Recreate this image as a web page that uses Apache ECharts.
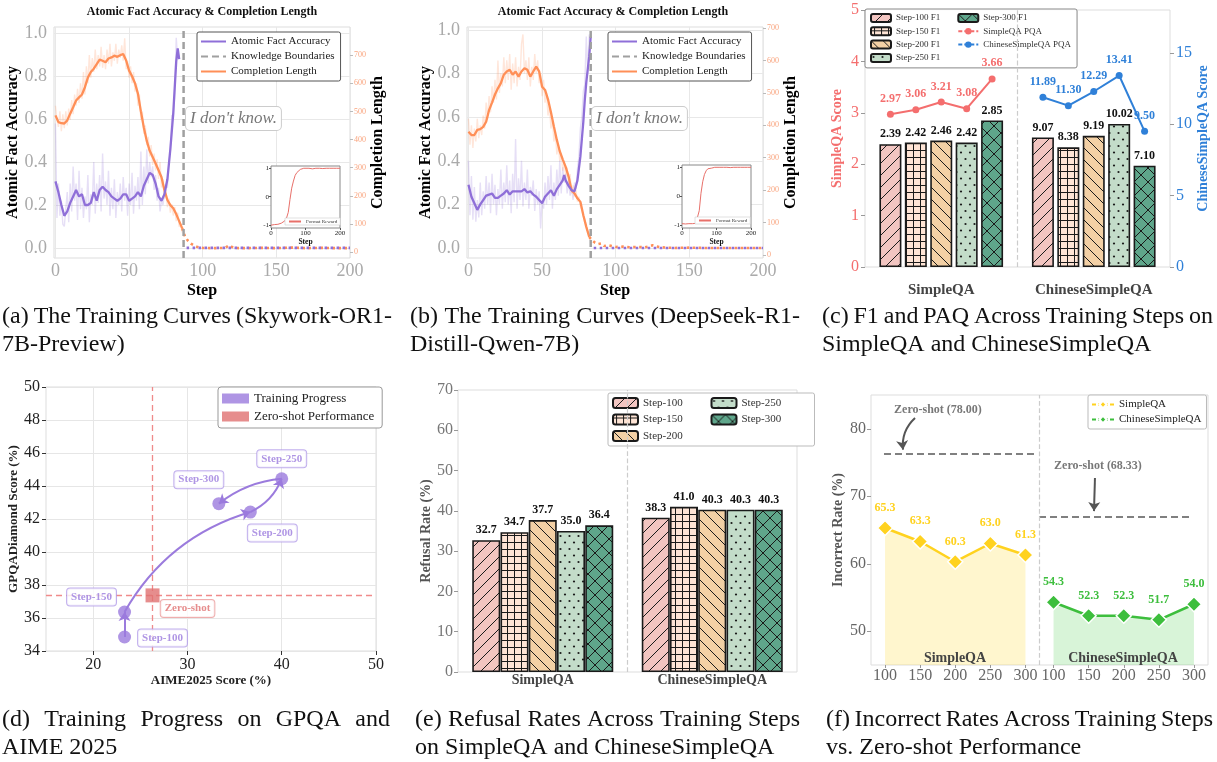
<!DOCTYPE html>
<html>
<head>
<meta charset="utf-8">
<script src="https://cdn.jsdelivr.net/npm/echarts@6/dist/echarts.min.js"></script>
<style>
html, body { margin: 0; padding: 0; background: #fff; }
#chart { width: 1217px; height: 762px; }
</style>
</head>
<body>
<div id="chart"></div>
<script>
const FONT = 'Liberation Serif';
const PURPLE = '#8F6FD8';
const ORANGE = '#FF8F57';

// ---------- (a) training curves, Skywork-OR1-7B-Preview ----------
const aAccRaw = [0.58, 0.14, 0.30, 0.15, 0.22, 0.11, 0.10, 0.18, 0.26, 0.12, 0.30, 0.17, 0.38, 0.22, 0.30, 0.13, 0.36, 0.18, 0.28, 0.14,
  0.24, 0.18, 0.34, 0.12, 0.25, 0.20, 0.40, 0.16, 0.30, 0.21, 0.34, 0.17, 0.44, 0.23, 0.31, 0.20, 0.36, 0.15, 0.28, 0.18,
  0.32, 0.14, 0.26, 0.20, 0.30, 0.17, 0.33, 0.22, 0.28, 0.15, 0.30, 0.20, 0.35, 0.16, 0.29, 0.22, 0.33, 0.18, 0.45, 0.20,
  0.38, 0.25, 0.46, 0.30, 0.40, 0.33, 0.38, 0.27, 0.34, 0.22, 0.28, 0.17, 0.22, 0.20, 0.26, 0.30, 0.28, 0.40, 0.45, 0.62,
  0.60, 0.72, 0.98, 0.88, 0.90];
const aLenRaw = [520, 470, 445, 500, 430, 490, 440, 500, 450, 510, 470, 540, 490, 560, 520, 580, 530, 600, 545, 640,
  560, 660, 600, 700, 620, 690, 640, 720, 650, 700, 660, 730, 655, 700, 650, 720, 670, 740, 660, 710,
  680, 740, 670, 720, 690, 735, 680, 760, 650, 680, 620, 660, 600, 640, 570, 600, 520, 560, 470, 500,
  420, 450, 380, 410, 340, 380, 310, 350, 290, 330, 260, 320, 230, 260, 190, 220, 160, 190, 140, 170,
  130, 160, 110, 140, 90, 100, 70];
const aAccSteps = [0, 2, 4, 6, 8, 10, 12, 14, 16, 18, 20, 22, 24, 26, 28, 30, 32, 34, 36, 38, 40, 42, 44, 46, 48, 50,
  52, 54, 56, 58, 60, 62, 64, 66, 68, 70, 72, 74, 76, 78, 80, 82, 83, 84];
const aAccSmooth = [0.31, 0.26, 0.20, 0.15, 0.17, 0.21, 0.24, 0.27, 0.24, 0.25, 0.20, 0.20, 0.21, 0.26, 0.22, 0.27, 0.285, 0.27,
  0.26, 0.24, 0.23, 0.22, 0.23, 0.25, 0.25, 0.22, 0.23, 0.24, 0.26, 0.24, 0.29, 0.32, 0.35, 0.34, 0.30, 0.24, 0.22, 0.25,
  0.32, 0.46, 0.63, 0.87, 0.93, 0.88];
const aLenSteps = [0, 2, 4, 6, 8, 10, 12, 14, 16, 18, 20, 22, 24, 26, 28, 30, 32, 34, 36, 38, 40, 42, 44, 46, 48, 50,
  52, 54, 56, 58, 60, 62, 64, 66, 68, 70, 72, 74, 76, 78, 80, 82, 84, 86];
const aLenSmooth = [486, 462, 458, 457, 468, 492, 515, 539, 550, 560, 586, 620, 640, 652, 668, 684, 680, 675, 688, 692,
  698, 694, 700, 704, 681, 645, 625, 600, 563, 500, 443, 395, 360, 338, 315, 291, 266, 220, 185, 167, 156, 135, 110, 85];
const aTailSteps = [86, 88, 90, 92, 94, 96, 98, 100, 105, 110, 115, 118, 121, 125, 130, 140, 150, 160, 170, 180, 190, 200];
const aTailLen = [85, 55, 40, 30, 24, 19, 16, 15, 14, 14, 15, 24, 15, 14, 14, 15, 14, 16, 14, 15, 14, 14];
const aBoundary = 87;
const rewardSteps = [0, 5, 10, 15, 20, 25, 30, 35, 40, 45, 50, 55, 60, 65, 70, 75, 80, 85, 90, 95, 100,
  110, 120, 130, 140, 150, 160, 170, 180, 190, 200];
const aReward = [-1, -1, -0.98, -1, -0.97, -0.95, -0.93, -0.9, -0.85, -0.75, -0.55, -0.1, 0.3, 0.55, 0.75, 0.85, 0.92, 0.96, 0.98, 1, 0.99,
  1, 0.98, 1, 1, 0.99, 1, 1, 1, 1, 1];

// ---------- (b) training curves, DeepSeek-R1-Distill-Qwen-7B ----------
const bAccRaw = [0.40, 0.15, 0.33, 0.13, 0.28, 0.12, 0.22, 0.14, 0.30, 0.15, 0.26, 0.18, 0.33, 0.20, 0.30, 0.16, 0.34, 0.20, 0.29, 0.15,
  0.27, 0.20, 0.36, 0.18, 0.30, 0.21, 0.38, 0.20, 0.31, 0.16, 0.34, 0.21, 0.50, 0.18, 0.32, 0.22, 0.40, 0.19, 0.30, 0.22,
  0.36, 0.18, 0.28, 0.24, 0.31, 0.17, 0.27, 0.20, 0.26, 0.09, 0.22, 0.18, 0.30, 0.20, 0.33, 0.22, 0.38, 0.18, 0.30, 0.22,
  0.36, 0.24, 0.40, 0.25, 0.37, 0.30, 0.34, 0.25, 0.31, 0.24, 0.28, 0.22, 0.30, 0.27, 0.36, 0.42, 0.55, 0.60, 0.72, 0.75,
  0.97, 0.80, 0.98, 0.96];
const bLenRaw = [420, 340, 400, 330, 390, 350, 420, 360, 400, 370, 430, 390, 470, 420, 490, 440, 520, 470, 540, 480,
  600, 500, 560, 520, 610, 530, 600, 540, 620, 510, 590, 530, 610, 520, 580, 540, 650, 680, 560, 600,
  540, 610, 520, 580, 540, 620, 560, 600, 530, 560, 490, 540, 470, 500, 430, 460, 390, 420, 350, 380,
  310, 340, 290, 310, 260, 290, 240, 270, 220, 250, 190, 215, 180, 200, 165, 180, 150, 140, 120, 110,
  90, 75, 60, 45];
const bAccSteps = [0, 2, 4, 6, 8, 10, 12, 14, 16, 18, 20, 22, 24, 26, 28, 30, 32, 34, 36, 38, 40, 42, 44, 46, 48, 50,
  52, 54, 56, 58, 60, 62, 64, 65, 66, 68, 70, 72, 74, 76, 77, 78, 79, 80, 81, 82, 83];
const bAccSmooth = [0.29, 0.235, 0.205, 0.175, 0.20, 0.22, 0.24, 0.245, 0.25, 0.23, 0.23, 0.24, 0.25, 0.265, 0.245, 0.26, 0.26,
  0.26, 0.26, 0.27, 0.255, 0.26, 0.245, 0.235, 0.22, 0.205, 0.235, 0.25, 0.265, 0.24, 0.27, 0.29, 0.31, 0.335, 0.31, 0.285,
  0.265, 0.26, 0.31, 0.42, 0.50, 0.58, 0.68, 0.76, 0.76, 0.88, 0.97];
const bLenSteps = [0, 2, 4, 6, 8, 10, 12, 14, 16, 18, 20, 22, 24, 26, 28, 30, 32, 34, 36, 38, 40, 42, 44, 46, 48, 50,
  52, 54, 56, 58, 60, 62, 64, 66, 68, 70, 72, 74, 76, 78, 80, 82];
const bLenSmooth = [380, 370, 370, 386, 388, 395, 411, 447, 470, 495, 514, 530, 556, 566, 571, 556, 566, 550, 566, 576,
  571, 550, 566, 581, 566, 519, 509, 480, 440, 396, 355, 320, 295, 272, 242, 200, 190, 175, 164, 123, 87, 56];
const bTailSteps = [82, 84, 86, 88, 90, 92, 95, 100, 105, 110, 115, 120, 125, 130, 140, 150, 160, 170, 180, 190, 200];
const bTailLen = [56, 45, 38, 34, 36, 28, 30, 25, 26, 24, 25, 24, 30, 24, 22, 23, 22, 22, 22, 22, 22];
const bBoundary = 83;
const bReward = [-0.95, -0.95, -0.96, -0.95, -0.95, -0.96, -0.95, -0.95, -0.94, -0.9, -0.5, 0.1, 0.5, 0.75, 0.88, 0.95, 0.98, 0.97, 1, 1, 0.99,
  1, 1, 1, 0.99, 1, 1, 1, 1, 1, 1];

// ---------- (c) F1 and PQA ----------
const cGroups = ['SimpleQA', 'ChineseSimpleQA'];
const cSteps = ['Step-100', 'Step-150', 'Step-200', 'Step-250', 'Step-300'];
const cSimpleF1 = [2.39, 2.42, 2.46, 2.42, 2.85];
const cChineseF1 = [9.07, 8.38, 9.19, 10.02, 7.10];
const cSimplePQA = [2.97, 3.06, 3.21, 3.08, 3.66];
const cChinesePQA = [11.89, 11.30, 12.29, 13.41, 9.50];

// ---------- (d) GPQA vs AIME ----------
const dSteps = ['Step-100', 'Step-150', 'Step-200', 'Step-250', 'Step-300'];
const dAime = [23.33, 23.33, 36.67, 40.0, 33.33];
const dGpqa = [34.85, 36.36, 42.42, 44.44, 42.93];
const dZeroAime = 26.3;
const dZeroGpqa = 37.37;

// ---------- (e) refusal rates ----------
const eGroups = ['SimpleQA', 'ChineseSimpleQA'];
const eSteps = ['Step-100', 'Step-150', 'Step-200', 'Step-250', 'Step-300'];
const eSimple = [32.7, 34.7, 37.7, 35.0, 36.4];
const eChinese = [38.3, 41.0, 40.3, 40.3, 40.3];

// ---------- (f) incorrect rates ----------
const fSteps = [100, 150, 200, 250, 300];
const fSimple = [65.3, 63.3, 60.3, 63.0, 61.3];
const fChinese = [54.3, 52.3, 52.3, 51.7, 54.0];
const fZeroShot = [78.00, 68.33];   // values written in the notes
const fZeroLine = [76.3, 67.0];     // height the dashed lines are drawn at

// ---------- layout helpers (no data below) ----------
const pts = (xs, ys) => xs.map((x, i) => [x, ys[i]]);
const idx = ys => ys.map((y, i) => [i, y]);
const slots = Array.from({length: 13}, (_, i) => 'slot' + i);
function place(vals, start) {
  const arr = slots.map(() => '-');
  vals.forEach((v, i) => { arr[start + i] = v; });
  return arr;
}
function only(v, at) {
  const arr = slots.map(() => '-');
  arr[at] = v;
  return arr;
}

function hatch(bg, kind) {
  const s = {fwd: 12, back: 12, grid: 7, dots: 9, cross: 14}[kind];
  const c = document.createElement('canvas');
  c.width = s;
  c.height = kind === 'dots' ? 13 : s;
  const g = c.getContext('2d');
  g.fillStyle = bg;
  g.fillRect(0, 0, c.width, c.height);
  g.strokeStyle = '#1a1a1a';
  g.fillStyle = '#1a1a1a';
  g.lineWidth = 1;
  g.beginPath();
  if (kind === 'fwd' || kind === 'cross') {
    g.moveTo(-1, s + 1); g.lineTo(s + 1, -1);
    g.moveTo(-1, 1); g.lineTo(1, -1);
    g.moveTo(s - 1, s + 1); g.lineTo(s + 1, s - 1);
  }
  if (kind === 'back' || kind === 'cross') {
    g.moveTo(-1, -1); g.lineTo(s + 1, s + 1);
    g.moveTo(s - 1, -1); g.lineTo(s + 1, 1);
    g.moveTo(-1, s - 1); g.lineTo(1, s + 1);
  }
  if (kind === 'grid') {
    g.moveTo(3.5, 0); g.lineTo(3.5, s);
    g.moveTo(0, 3.5); g.lineTo(s, 3.5);
  }
  g.stroke();
  if (kind === 'dots') {
    [[2.5, 3], [7, 9.5]].forEach(([x, y]) => {
      g.beginPath(); g.arc(x, y, 1.1, 0, Math.PI * 2); g.fill();
    });
  }
  return {image: c, repeat: 'repeat'};
}
const barFills = ['#F2C5C1', '#FEE4D5', '#F3D0A5', '#C3DCC9', '#5FA68B'];
const barKinds = ['fwd', 'grid', 'back', 'dots', 'cross'];
const barStyles = barFills.map((c, i) => ({color: hatch(c, barKinds[i]), borderColor: '#1a1a1a', borderWidth: 1.6}));

const grids = [], xAxes = [], yAxes = [], series = [], legends = [], graphics = [];
const font = (size, weight, color) => ({fontFamily: FONT, fontSize: size, fontWeight: weight || 'normal', color: color || '#222'});

// ---------- panels (a) and (b) ----------
const stepTicks = [0, 50, 100, 150, 200];
const accTicks = [0, 0.2, 0.4, 0.6, 0.8, 1.0];
const lenTicks = [0, 100, 200, 300, 400, 500, 600, 700];

function addTraining(p) {
  const gi = grids.length, xi = xAxes.length, yi = yAxes.length;
  grids.push({left: p.left, top: 27, width: 296, height: 231, show: true, borderColor: '#ddd', borderWidth: 1, backgroundColor: 'transparent'});
  grids.push({left: p.inset[0], top: p.inset[1], width: 69, height: p.inset[2], show: true, borderColor: '#888', borderWidth: 1, backgroundColor: '#fff', z: 3});
  xAxes.push({
    gridIndex: gi, type: 'value', min: -1, max: 200, position: 'bottom',
    name: 'Step', nameLocation: 'middle', nameGap: 25, nameTextStyle: font(16, 'bold', '#000'),
    axisLine: {show: false, onZero: false}, axisTick: {show: false, customValues: stepTicks},
    axisLabel: Object.assign({customValues: stepTicks, margin: 4}, font(18, 'normal', '#aaa')),
    splitLine: {show: true, lineStyle: {color: '#e8e8e8'}}
  });
  xAxes.push({
    gridIndex: gi + 1, type: 'value', min: 0, max: 200, z: 4, position: 'bottom',
    name: 'Step', nameLocation: 'middle', nameGap: 9, nameTextStyle: font(7.5, 'bold', '#111'),
    axisLine: {show: false, onZero: false}, axisTick: {show: true, length: 2, customValues: [0, 100, 200], lineStyle: {color: '#555'}},
    axisLabel: Object.assign({customValues: [0, 100, 200], margin: 2}, font(7, 'normal', '#222')),
    splitLine: {show: false}
  });
  yAxes.push({
    gridIndex: gi, type: 'value', min: p.accRange[0], max: p.accRange[1],
    name: 'Atomic Fact Accuracy', nameLocation: 'middle', nameGap: 29, nameTextStyle: font(16, 'bold', '#000'),
    axisLine: {show: false, onZero: false}, axisTick: {show: false, customValues: accTicks},
    axisLabel: Object.assign({customValues: accTicks, margin: 7, formatter: v => v.toFixed(1)}, font(18, 'normal', '#aaa')),
    splitLine: {show: true, lineStyle: {color: '#e8e8e8'}}
  });
  yAxes.push({
    gridIndex: gi, type: 'value', position: 'right', min: p.lenRange[0], max: p.lenRange[1],
    name: 'Completion Length', nameLocation: 'middle', nameGap: 20, nameTextStyle: font(16, 'bold', '#000'),
    axisLine: {show: false, onZero: false}, axisTick: {show: true, length: 3, customValues: lenTicks, lineStyle: {color: '#bbb'}},
    axisLabel: Object.assign({customValues: lenTicks, margin: 4}, font(8, 'normal', '#F9A47E')),
    splitLine: {show: false}
  });
  yAxes.push({
    gridIndex: gi + 1, type: 'value', min: -1.1, max: 1.08, z: 4,
    axisLine: {show: false, onZero: false}, axisTick: {show: true, length: 2, customValues: [-1, 0, 1], lineStyle: {color: '#555'}},
    axisLabel: Object.assign({customValues: [-1, 0, 1], margin: 2}, font(7, 'normal', '#222')),
    splitLine: {show: false}
  });
  const line = extra => Object.assign({type: 'line', symbol: 'none', silent: true, xAxisIndex: xi, yAxisIndex: yi}, extra);
  series.push(line({name: 'raw-acc', data: idx(p.accRaw), lineStyle: {color: 'rgba(143,111,216,0.22)', width: 1.4}, z: 1}));
  series.push(line({name: 'raw-len', yAxisIndex: yi + 1, data: idx(p.lenRaw), lineStyle: {color: 'rgba(255,143,87,0.22)', width: 1.4}, z: 1}));
  series.push(line({name: 'Completion Length', yAxisIndex: yi + 1, data: pts(p.lenSteps, p.lenSmooth),
    lineStyle: {color: ORANGE, width: 2.3}, itemStyle: {color: ORANGE}, z: 3}));
  series.push(line({name: 'Atomic Fact Accuracy', data: pts(p.accSteps, p.accSmooth),
    lineStyle: {color: PURPLE, width: 2.3}, itemStyle: {color: PURPLE}, z: 3}));
  series.push(line({name: 'tail-len', yAxisIndex: yi + 1, data: pts(p.tailSteps, p.tailLen),
    lineStyle: {color: ORANGE, width: 2.6, type: [2.5, 3.5]}, z: 3}));
  series.push(line({name: 'tail-acc', data: pts([p.boundary, 200], [0, 0]),
    lineStyle: {color: PURPLE, width: 2.6, type: [2.5, 3.5], dashOffset: 3}, z: 4}));
  series.push(line({name: 'Knowledge Boundaries', data: [[p.boundary, p.accRange[0]], [p.boundary, p.accRange[1]]],
    lineStyle: {color: '#a0a0a0', width: 2.5, type: [7, 4]}, itemStyle: {color: '#a0a0a0'}, z: 3}));
  series.push(line({name: 'Format Reward', xAxisIndex: xi + 1, yAxisIndex: yi + 2, data: pts(rewardSteps, p.reward),
    lineStyle: {color: '#E8706A', width: 1}, itemStyle: {color: '#E8706A'}, z: 4}));

  legends.push({
    left: p.legend, top: 32, orient: 'vertical', selectedMode: false,
    data: ['Atomic Fact Accuracy', 'Knowledge Boundaries', 'Completion Length'],
    itemWidth: 25, itemHeight: 10, itemGap: 4, itemStyle: {opacity: 0}, textStyle: font(11, 'normal', '#222'),
    backgroundColor: '#fff', borderColor: '#555', borderWidth: 1, borderRadius: 2, padding: [4, 6, 4, 3]
  });
  legends.push({
    left: p.insetLegend[0], top: p.insetLegend[1], selectedMode: false, data: ['Format Reward'],
    itemWidth: 12, itemHeight: 5, itemStyle: {opacity: 0}, textStyle: font(5, 'normal', '#333'),
    backgroundColor: '#fff', borderColor: '#ccc', borderWidth: 0.6, padding: [1, 3], z: 10
  });
  graphics.push({type: 'text', x: p.titleX, y: 12, z: 10, style: {
    text: 'Atomic Fact Accuracy & Completion Length', font: 'bold 12px "Liberation Serif"', fill: '#111',
    align: 'center', verticalAlign: 'middle', textAlign: 'center', textVerticalAlign: 'middle'}});
  graphics.push({type: 'text', x: p.idk[0], y: p.idk[1], z: 10, style: {
    text: "I don't know.", font: 'italic 17px "Liberation Serif"', fill: '#777',
    backgroundColor: '#fff', borderColor: '#ccc', borderWidth: 1, borderRadius: 4, padding: [3, 4]}});
}

addTraining({left: 54, inset: [271, 166, 62], accRange: [-0.047, 1.03], lenRange: [-21, 800],
  accRaw: aAccRaw, lenRaw: aLenRaw, accSteps: aAccSteps, accSmooth: aAccSmooth, lenSteps: aLenSteps, lenSmooth: aLenSmooth,
  tailSteps: aTailSteps, tailLen: aTailLen, boundary: aBoundary, reward: aReward,
  legend: 197, insetLegend: [285, 218], titleX: 202, idk: [186, 107]});
addTraining({left: 467, inset: [682, 165, 63], accRange: [-0.046, 1.014], lenRange: [-9, 703],
  accRaw: bAccRaw, lenRaw: bLenRaw, accSteps: bAccSteps, accSmooth: bAccSmooth, lenSteps: bLenSteps, lenSmooth: bLenSmooth,
  tailSteps: bTailSteps, tailLen: bTailLen, boundary: bBoundary, reward: bReward,
  legend: 608, insetLegend: [695, 217], titleX: 613, idk: [592, 107]});

// ---------- panel (c) ----------
const PINK = '#F46E6E', BLUE = '#2F80D8';
{
  const gi = grids.length, xi = xAxes.length, yi = yAxes.length;
  grids.push({left: 865, top: 10, width: 305, height: 257, show: true, borderColor: '#ddd', backgroundColor: 'transparent'});
  xAxes.push({gridIndex: gi, type: 'category', data: slots, boundaryGap: false, position: 'bottom',
    axisLine: {show: false}, axisTick: {show: false}, axisLabel: {show: false}, splitLine: {show: false}});
  xAxes.push({gridIndex: gi, type: 'category', data: cGroups, position: 'bottom', offset: 0,
    axisLine: {show: false}, axisTick: {show: false}, axisLabel: Object.assign({margin: 16, interval: 0}, font(15, 'bold', '#444')), splitLine: {show: false}});
  yAxes.push({gridIndex: gi, type: 'value', min: 0, max: 5, interval: 1,
    name: 'SimpleQA Score', nameLocation: 'middle', nameGap: 21, nameTextStyle: font(14, 'bold', PINK),
    axisLine: {show: false}, axisTick: {show: true, length: 4, lineStyle: {color: '#999'}},
    axisLabel: Object.assign({margin: 6}, font(16, 'normal', PINK)), splitLine: {show: false}});
  yAxes.push({gridIndex: gi, type: 'value', position: 'right', min: 0, max: 18,
    name: 'ChineseSimpleQA Score', nameLocation: 'middle', nameGap: 25, nameTextStyle: font(14, 'bold', BLUE),
    axisLine: {show: false}, axisTick: {show: true, length: 4, customValues: [0, 5, 10, 15], lineStyle: {color: '#999'}},
    axisLabel: Object.assign({margin: 6, customValues: [0, 5, 10, 15]}, font(16, 'normal', BLUE)), splitLine: {show: false}});
  cSteps.forEach((s, k) => {
    const bar = (axis, data) => ({
      name: s + ' F1', type: 'bar', xAxisIndex: xi, yAxisIndex: axis, data, barWidth: 22, barGap: '-100%',
      itemStyle: barStyles[k], silent: true,
      label: Object.assign({show: true, position: 'top', distance: 4, formatter: p => Number(p.value).toFixed(2)}, font(12, 'bold', '#111'))
    });
    series.push(bar(yi, only(cSimpleF1[k], 1 + k)));
    series.push(bar(yi + 1, only(cChineseF1[k], 7 + k)));
  });
  const pqa = (name, axis, data, color) => ({
    name, type: 'line', xAxisIndex: xi, yAxisIndex: axis, data, symbol: 'circle', symbolSize: 7, z: 5, silent: true,
    lineStyle: {color, width: 2}, itemStyle: {color},
    label: Object.assign({show: true, position: 'top', distance: 6, formatter: p => Number(p.value).toFixed(2)}, font(12, 'bold', color))
  });
  const s1 = pqa('SimpleQA PQA', yi, place(cSimplePQA, 1), PINK);
  s1.markLine = {silent: true, symbol: 'none', label: {show: false},
    lineStyle: {color: '#ccc', width: 1.2, type: 'dashed'}, data: [{xAxis: 'slot6'}]};
  series.push(s1);
  series.push(pqa('ChineseSimpleQA PQA', yi + 1, place(cChinesePQA, 7), BLUE));
  legends.push({
    left: 865, top: 9, orient: 'vertical', height: 52, selectedMode: false,
    data: [...cSteps.map(s => s + ' F1'),
      {name: 'SimpleQA PQA', lineStyle: {type: [4, 2]}}, {name: 'ChineseSimpleQA PQA', lineStyle: {type: [4, 2]}}],
    itemWidth: 20, itemHeight: 8, itemGap: 3.3,
    textStyle: Object.assign({width: 58, lineHeight: 10}, font(9, 'normal', '#333')),
    backgroundColor: 'rgba(255,255,255,0.85)', borderColor: '#888', borderWidth: 1, borderRadius: 2, padding: [4, 6, 5, 5]
  });
}

// ---------- panel (d) ----------
const LAV = '#9B7BDD', RED = '#E07070';
const dLabelOffset = [[38, 1], [-33, -15], [22, 21], [0, -20], [-20, -24]];
const dCurve = [0, 0.2, -0.2, -0.15];
{
  const gi = grids.length, xi = xAxes.length, yi = yAxes.length;
  grids.push({left: 46, top: 387, width: 330, height: 264, show: true, borderColor: '#ddd', backgroundColor: 'transparent'});
  xAxes.push({gridIndex: gi, type: 'value', min: 15, max: 50, position: 'bottom',
    name: 'AIME2025 Score (%)', nameLocation: 'middle', nameGap: 22, nameTextStyle: font(13, 'bold', '#222'),
    axisLine: {show: false, onZero: false}, axisTick: {show: true, length: 4, customValues: [20, 30, 40, 50], lineStyle: {color: '#333'}},
    axisLabel: Object.assign({customValues: [20, 30, 40, 50], margin: 6}, font(16, 'normal', '#222')),
    splitLine: {show: true, lineStyle: {color: '#e6e6e6'}}});
  yAxes.push({gridIndex: gi, type: 'value', min: 34, max: 50, interval: 2,
    name: 'GPQADiamond Score (%)', nameLocation: 'middle', nameGap: 25, nameTextStyle: font(13, 'bold', '#222'),
    axisLine: {show: false, onZero: false}, axisTick: {show: true, length: 4, lineStyle: {color: '#333'}},
    axisLabel: Object.assign({margin: 6}, font(16, 'normal', '#222')),
    splitLine: {show: true, lineStyle: {color: '#e6e6e6'}}});
  const boxLabel = (color, border) => Object.assign({
    show: true, position: 'inside', backgroundColor: '#fff', borderColor: border, borderWidth: 1, borderRadius: 3, padding: [3, 4]
  }, font(11, 'bold', color));
  series.push({
    name: 'arrows', type: 'lines', coordinateSystem: 'cartesian2d', xAxisIndex: xi, yAxisIndex: yi, silent: true, z: 2,
    symbol: ['none', 'arrow'], symbolSize: 9, lineStyle: {color: LAV, width: 2, opacity: 1},
    data: dAime.slice(1).map((x, i) => ({
      coords: [[dAime[i], dGpqa[i]], [x, dGpqa[i + 1]]], lineStyle: {curveness: dCurve[i]}
    }))
  });
  series.push({
    name: 'Training Progress', type: 'scatter', xAxisIndex: xi, yAxisIndex: yi, symbolSize: 13, z: 3, silent: true,
    itemStyle: {color: LAV},
    data: dAime.map((x, i) => ({
      value: [x, dGpqa[i]],
      label: Object.assign(boxLabel(LAV, '#B29BE8'), {offset: dLabelOffset[i], formatter: dSteps[i]})
    }))
  });
  series.push({
    name: 'Zero-shot Performance', type: 'scatter', xAxisIndex: xi, yAxisIndex: yi, symbol: 'rect', symbolSize: 14, z: 3, silent: true,
    itemStyle: {color: RED},
    data: [{value: [dZeroAime, dZeroGpqa], label: Object.assign(boxLabel(RED, '#EB9A9A'), {offset: [35, 13], formatter: 'Zero-shot'})}],
    markLine: {silent: true, symbol: 'none', label: {show: false}, z: 1,
      lineStyle: {color: '#F08A8A', width: 1.3, type: [6, 4]},
      data: [{xAxis: dZeroAime}, {yAxis: dZeroGpqa}]}
  });
  legends.push({
    left: 218, top: 387, orient: 'vertical', selectedMode: false, icon: 'rect',
    data: ['Training Progress', 'Zero-shot Performance'],
    itemWidth: 27, itemHeight: 10, itemGap: 5, textStyle: font(13, 'normal', '#222'),
    backgroundColor: '#fff', borderColor: '#999', borderWidth: 1, borderRadius: 3, padding: [5, 8, 5, 4]
  });
}

// ---------- panel (e) ----------
{
  const gi = grids.length, xi = xAxes.length, yi = yAxes.length;
  grids.push({left: 458, top: 390, width: 339, height: 282, show: true, borderColor: '#ddd', backgroundColor: 'transparent'});
  xAxes.push({gridIndex: gi, type: 'category', data: slots, boundaryGap: false, position: 'bottom',
    axisLine: {show: false}, axisTick: {show: false}, axisLabel: {show: false}, splitLine: {show: false}});
  xAxes.push({gridIndex: gi, type: 'category', data: eGroups, position: 'bottom', offset: 0,
    axisLine: {show: false}, axisTick: {show: false}, axisLabel: Object.assign({margin: 1, interval: 0}, font(14, 'bold', '#444')), splitLine: {show: false}});
  yAxes.push({gridIndex: gi, type: 'value', min: 0, max: 70, interval: 10,
    name: 'Refusal Rate (%)', nameLocation: 'middle', nameGap: 24, nameTextStyle: font(14, 'bold', '#555'),
    axisLine: {show: false}, axisTick: {show: true, length: 4, lineStyle: {color: '#999'}},
    axisLabel: Object.assign({margin: 5}, font(16, 'normal', '#777')), splitLine: {show: false}});
  eSteps.forEach((s, k) => {
    const data = only(eSimple[k], 1 + k);
    data[7 + k] = eChinese[k];
    const item = {
      name: s, type: 'bar', xAxisIndex: xi, yAxisIndex: yi, data, barWidth: 28, barGap: '-100%',
      itemStyle: barStyles[k], silent: true,
      label: Object.assign({show: true, position: 'top', distance: 4, formatter: p => Number(p.value).toFixed(1)}, font(12, 'bold', '#111'))
    };
    if (k === 0) {
      item.markLine = {silent: true, symbol: 'none', label: {show: false},
        lineStyle: {color: '#ccc', width: 1.2, type: 'dashed'}, data: [{xAxis: 'slot6'}]};
    }
    series.push(item);
  });
  legends.push({
    left: 608, top: 393, orient: 'vertical', height: 48, selectedMode: false, data: eSteps,
    itemWidth: 25, itemHeight: 10, itemGap: 4.5,
    textStyle: Object.assign({width: 63, lineHeight: 12}, font(11, 'normal', '#333')),
    backgroundColor: '#fff', borderColor: '#bbb', borderWidth: 1, borderRadius: 2, padding: [4, 10, 4, 4]
  });
}

// ---------- panel (f) ----------
const GOLD = '#FFD21F', GREEN = '#3DBE3D';
const fGroupOffset = 240;
const fSplit = 320;
const fZeroSpan = [[98.5, 316.4], [319.3, 537.2]];
const fNotePos = [[175.4, 82.8], [403.3, 74.5]];
const fArrows = [[[142.7, 81.6], [125.6, 76.9]], [[399.0, 72.7], [397.6, 67.8]]];
const fArrowCurve = [-0.25, 0];
{
  const gi = grids.length, xi = xAxes.length, yi = yAxes.length;
  const fTicks = [...fSteps, ...fSteps.map(s => s + fGroupOffset)];
  grids.push({left: 871, top: 395, width: 337, height: 270, show: true, borderColor: '#ddd', backgroundColor: 'transparent'});
  xAxes.push({gridIndex: gi, type: 'value', min: 80, max: 560, position: 'bottom',
    axisLine: {show: false, onZero: false}, axisTick: {show: true, length: 3, customValues: fTicks, lineStyle: {color: '#999'}},
    axisLabel: Object.assign({customValues: fTicks, margin: 3, formatter: v => String(v > fSplit ? v - fGroupOffset : v)}, font(16, 'normal', '#666')),
    splitLine: {show: false}});
  yAxes.push({gridIndex: gi, type: 'value', min: 45, max: 85,
    name: 'Incorrect Rate (%)', nameLocation: 'middle', nameGap: 26, nameTextStyle: font(14, 'bold', '#555'),
    axisLine: {show: false, onZero: false}, axisTick: {show: true, length: 4, customValues: [50, 60, 70, 80], lineStyle: {color: '#999'}},
    axisLabel: Object.assign({customValues: [50, 60, 70, 80], margin: 5}, font(16, 'normal', '#666')), splitLine: {show: false}});
  const rate = (name, xs, ys, color, area) => ({
    name, type: 'line', xAxisIndex: xi, yAxisIndex: yi, data: pts(xs, ys), silent: true, z: 3,
    symbol: 'diamond', symbolSize: 15, itemStyle: {color, borderColor: '#fff', borderWidth: 1.5},
    lineStyle: {color, width: 2.5}, areaStyle: {color: area, origin: 'start', opacity: 1},
    label: Object.assign({show: true, position: 'top', distance: 6, formatter: p => p.value[1].toFixed(1)}, font(12, 'bold', color))
  });
  const sq = rate('SimpleQA', fSteps, fSimple, GOLD, 'rgba(255,218,60,0.25)');
  sq.markLine = {silent: true, symbol: 'none', label: {show: false},
    lineStyle: {color: '#808080', width: 2, type: [7, 4]},
    data: fZeroSpan.map((span, i) => [{coord: [span[0], fZeroLine[i]]}, {coord: [span[1], fZeroLine[i]]}])};
  const cq = rate('ChineseSimpleQA', fSteps.map(s => s + fGroupOffset), fChinese, GREEN, 'rgba(60,200,60,0.2)');
  cq.markLine = {silent: true, symbol: 'none', label: {show: false},
    lineStyle: {color: '#ccc', width: 1.2, type: 'dashed'}, data: [{xAxis: fSplit}]};
  series.push(sq, cq);
  series.push({
    name: 'zero-notes', type: 'scatter', xAxisIndex: xi, yAxisIndex: yi, symbolSize: 0, silent: true, z: 5,
    data: fNotePos.map((p, i) => ({
      value: p,
      label: Object.assign({show: true, position: 'inside', formatter: 'Zero-shot (' + fZeroShot[i].toFixed(2) + ')'}, font(12, 'bold', '#555'))
    }))
  });
  series.push({
    name: 'zero-arrows', type: 'lines', coordinateSystem: 'cartesian2d', xAxisIndex: xi, yAxisIndex: yi, silent: true, z: 5,
    symbol: ['none', 'arrow'], symbolSize: 9, lineStyle: {color: '#555', width: 2, opacity: 1},
    data: fArrows.map((c, i) => ({coords: c, lineStyle: {curveness: fArrowCurve[i]}}))
  });
  legends.push({
    left: 1088, top: 395, orient: 'vertical', selectedMode: false,
    data: [{name: 'SimpleQA', lineStyle: {type: [4, 2]}}, {name: 'ChineseSimpleQA', lineStyle: {type: [4, 2]}}],
    itemWidth: 22, itemHeight: 9, itemGap: 4, textStyle: font(11, 'normal', '#222'),
    backgroundColor: '#fff', borderColor: '#bbb', borderWidth: 1, borderRadius: 2, padding: [4, 5, 4, 3]
  });
  graphics.push({type: 'text', x: 955, y: 658, z: 10, style: {text: 'SimpleQA', font: 'bold 14px "Liberation Serif"', fill: '#444',
    align: 'center', verticalAlign: 'middle', textAlign: 'center', textVerticalAlign: 'middle'}});
  graphics.push({type: 'text', x: 1123, y: 658, z: 10, style: {text: 'ChineseSimpleQA', font: 'bold 14px "Liberation Serif"', fill: '#444',
    align: 'center', verticalAlign: 'middle', textAlign: 'center', textVerticalAlign: 'middle'}});
}

// ---------- captions ----------
const capFont = '24px "Liberation Serif"';
const measure = document.createElement('canvas').getContext('2d');
measure.font = capFont;
function caption(lines, x0, x1, y0) {
  lines.forEach((text, li) => {
    const y = y0 + li * 28;
    const words = text.split(' ');
    if (li > 0 || words.length < 2) {
      graphics.push({type: 'text', x: x0, y, z: 10, style: {text, font: capFont, fill: '#111', verticalAlign: 'middle', textVerticalAlign: 'middle'}});
      return;
    }
    const widths = words.map(w => measure.measureText(w).width);
    const gap = (x1 - x0 - widths.reduce((a, b) => a + b, 0)) / (words.length - 1);
    let x = x0;
    words.forEach((w, i) => {
      graphics.push({type: 'text', x, y, z: 10, style: {text: w, font: capFont, fill: '#111', verticalAlign: 'middle', textVerticalAlign: 'middle'}});
      x += widths[i] + gap;
    });
  });
}
caption(['(a) The Training Curves (Skywork-OR1-', '7B-Preview)'], 2, 392, 317);
caption(['(b) The Training Curves (DeepSeek-R1-', 'Distill-Qwen-7B)'], 410, 800, 317);
caption(['(c) F1 and PAQ Across Training Steps on', 'SimpleQA and ChineseSimpleQA'], 822, 1213, 317);
caption(['(d) Training Progress on GPQA and', 'AIME 2025'], 2, 390, 720);
caption(['(e) Refusal Rates Across Training Steps', 'on SimpleQA and ChineseSimpleQA'], 415, 800, 720);
caption(['(f) Incorrect Rates Across Training Steps', 'vs. Zero-shot Performance'], 826, 1213, 720);

const chart = echarts.init(document.getElementById('chart'), null, {width: 1217, height: 762});
chart.setOption({
  animation: false,
  backgroundColor: '#fff',
  textStyle: {fontFamily: FONT},
  grid: grids,
  xAxis: xAxes,
  yAxis: yAxes,
  legend: legends,
  series: series,
  graphic: {elements: graphics}
});
</script>
</body>
</html>
